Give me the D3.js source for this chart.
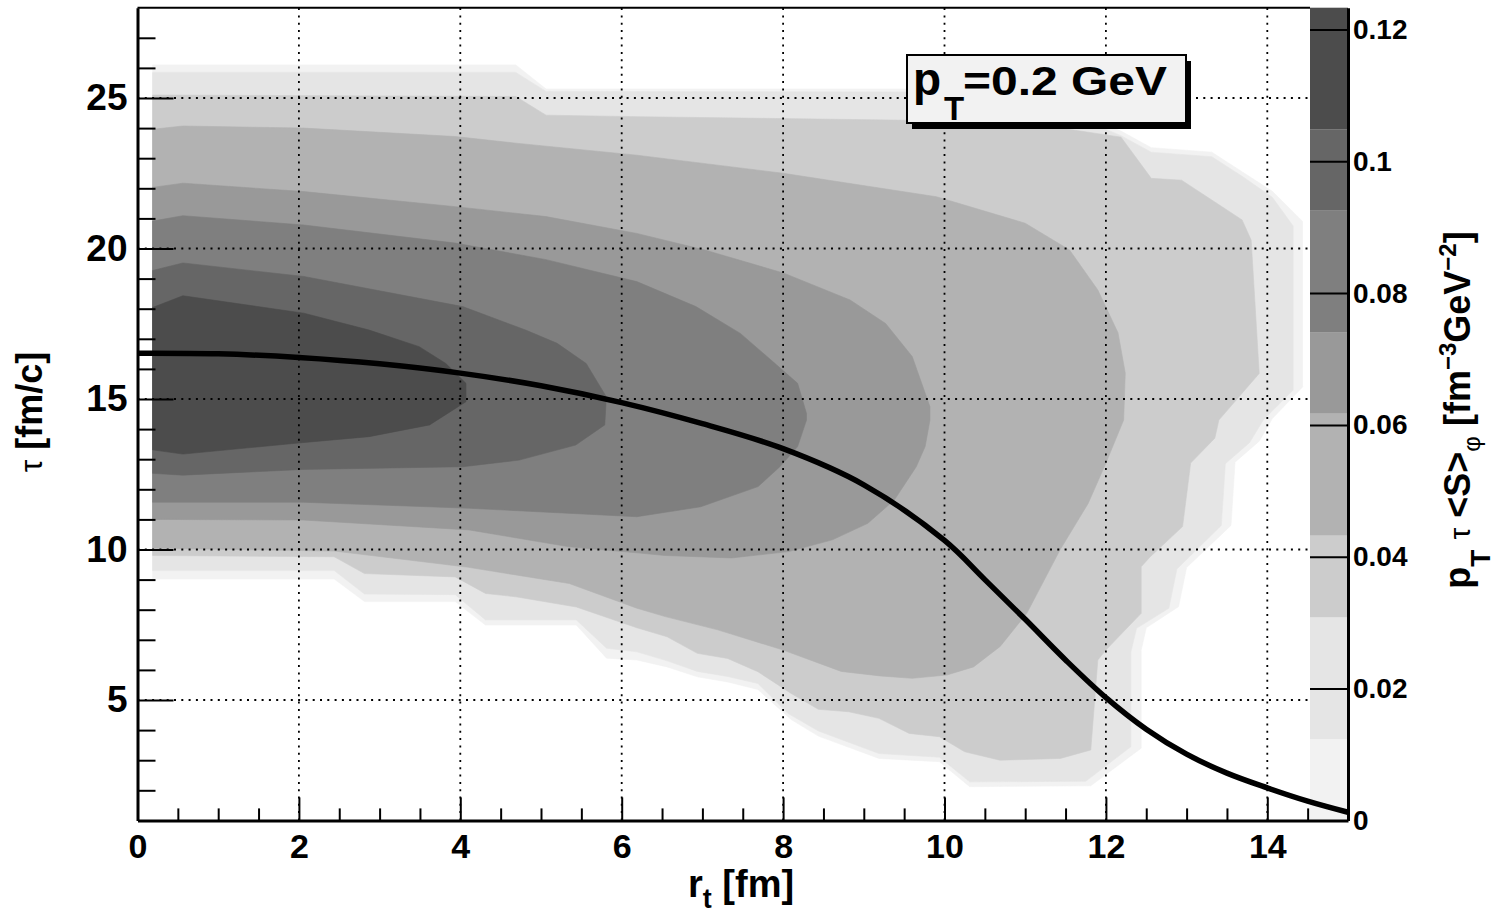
<!DOCTYPE html>
<html>
<head>
<meta charset="utf-8">
<script src="https://cdn.jsdelivr.net/npm/d3@7"></script>
<style>
  html, body { margin: 0; padding: 0; background: #fff; }
  svg { display: block; }
  text { font-family: "Liberation Sans", Arial, Helvetica, sans-serif; font-weight: bold; fill: #000; }
</style>
</head>
<body>
<svg id="chart" width="1504" height="914"></svg>
<script>
// ---- data -------------------------------------------------------------
// axis ticks
const xMajorTicks = [0, 2, 4, 6, 8, 10, 12, 14];
const yMajorTicks = [5, 10, 15, 20, 25];
const zTicks = [0, 0.02, 0.04, 0.06, 0.08, 0.1, 0.12];

// colour levels of the emission function (band edges) and their grey shades
const levelEdges = [0, 0.0123, 0.0308, 0.0432, 0.0617, 0.0740, 0.0925, 0.1048, 0.1233];
const levelColors = ["#f2f2f2", "#e5e5e5", "#cccccc", "#b2b2b2", "#999999", "#7f7f7f", "#666666", "#4c4c4c"];

// contour outlines [r_t, tau] of the regions above each level edge
const contour0 = [[0.1875,26.1],[4.6875,26.1],[5.0625,25.3],[9.5625,25.3],[10.6875,25.1],[11.4375,24.7],[12.1875,23.9],[12.5625,23.35],[13.3125,23.2],[13.6875,22.55],[14.0625,21.9],[14.4375,20.9],[14.4375,15.4],[14.0625,14.35],[13.9,13.6],[13.6,12.9],[13.55,10.8],[13.0,9.4],[12.9,8.1],[12.5,7.4],[12.4375,6.66],[12.4375,3.4],[11.8125,2.15],[10.3125,2.12],[9.9375,2.95],[9.1875,3.06],[8.4375,3.8],[8.1,4.35],[7.6875,5.35],[7.3125,5.6],[6.9375,5.77],[6.5625,6.1],[6.1875,6.33],[5.8125,6.39],[5.4375,7.49],[4.3125,7.49],[3.9375,8.27],[2.8125,8.27],[2.4375,9.02],[0.1875,9.02]];
const contour1 = [[0.1875,25.85],[4.6875,25.85],[5.0625,25.22],[9.5625,25.2],[10.6875,25.0],[11.4375,24.6],[12.1875,23.75],[12.5625,23.2],[13.3125,23.05],[13.6875,22.4],[14.0625,21.7],[14.32,20.75],[14.32,15.3],[13.95,14.3],[13.78,13.55],[13.48,12.85],[13.43,10.8],[12.88,9.35],[12.78,8.05],[12.38,7.38],[12.31,6.6],[12.31,3.45],[11.75,2.3],[10.3125,2.28],[9.9375,3.1],[9.1875,3.22],[8.4375,3.97],[8.0625,4.55],[7.6875,5.55],[7.3125,5.78],[6.9375,5.95],[6.5625,6.3],[6.1875,6.6],[5.8125,6.72],[5.4375,7.66],[4.3125,7.66],[3.9375,8.5],[2.8125,8.52],[2.4375,9.3],[0.1875,9.3]];
const contour2 = [[0.1875,25.1],[4.6875,25.05],[5.0625,24.43],[6.1875,24.38],[9.5625,24.26],[10.6875,24.15],[11.4375,24.0],[12.1875,23.7],[12.5625,22.33],[12.9375,22.27],[13.3125,21.61],[13.6875,20.95],[13.8,20.28],[13.9,15.85],[13.4,14.3],[13.35,13.7],[13.05,12.87],[12.95,10.76],[12.55,9.76],[12.4375,9.43],[12.4375,7.88],[12.0,6.66],[11.9,6.33],[11.8125,3.34],[11.4375,3.06],[10.6875,3.0],[10.25,3.28],[9.9375,3.78],[9.5625,3.89],[9.1875,4.39],[8.8125,4.61],[8.4375,4.69],[8.1,5.22],[7.6875,5.94],[7.3125,6.38],[6.9375,6.55],[6.5625,7.1],[6.1875,7.4],[5.4375,8.09],[4.6875,8.43],[4.3125,8.54],[3.9375,9.09],[2.8125,9.2],[2.4375,9.76],[0.1875,9.8]];
const contour3 = [[0.1875,23.96],[0.5625,24.07],[2.0625,24.0],[3.9375,23.72],[4.6875,23.5],[5.0625,23.4],[6.1875,23.1],[8.0,22.5],[9.9,21.72],[11.0,20.84],[11.55,19.95],[11.9,18.62],[12.15,17.2],[12.24,15.86],[12.22,14.3],[12.0,12.87],[11.78,11.53],[11.43,9.98],[11.02,7.88],[10.69,6.78],[10.36,6.1],[10.03,5.83],[9.6,5.72],[9.2,5.8],[8.72,5.95],[8.0,6.66],[7.19,7.33],[6.54,7.77],[6.1875,8.05],[5.35,8.87],[4.1,9.41],[2.4375,9.95],[0.1875,10.04]];
const contour4 = [[0.1875,22.03],[0.5625,22.17],[2.0625,21.89],[3.9375,21.39],[5.0625,21.06],[6.1875,20.5],[7.03,19.95],[8.01,19.18],[8.83,18.29],[9.27,17.51],[9.6,16.41],[9.82,14.74],[9.82,14.3],[9.76,13.42],[9.65,12.75],[9.38,11.65],[9.05,10.87],[8.61,10.32],[8.07,9.93],[7.36,9.72],[6.54,9.8],[6.1875,9.89],[5.35,10.09],[4.11,10.65],[2.05,10.98],[0.1875,11.0]];
const contour5 = [[0.1875,20.91],[0.5625,21.09],[2.0625,20.78],[3.9375,20.18],[5.0625,19.63],[6.1875,18.9],[6.92,18.07],[7.47,17.18],[7.9,16.18],[8.18,15.52],[8.29,14.52],[8.29,14.3],[8.18,13.42],[7.96,12.75],[7.69,12.09],[6.98,11.42],[6.1875,11.09],[4.11,11.37],[2.05,11.57],[0.1875,11.57]];
const contour6 = [[0.1875,19.27],[0.5625,19.52],[2.0625,19.07],[4.03,18.07],[4.81,17.29],[5.2,16.85],[5.56,16.18],[5.81,15.07],[5.79,14.14],[5.43,13.47],[4.73,12.97],[4.03,12.75],[2.05,12.66],[0.5625,12.47],[0.1875,12.53]];
const contour7 = [[0.1875,18.04],[0.5625,18.43],[2.0625,17.85],[2.87,17.29],[3.49,16.74],[3.82,16.18],[4.07,15.52],[4.07,14.91],[3.62,14.14],[2.87,13.75],[1.96,13.53],[0.5625,13.17],[0.1875,13.31]];

// freeze-out curve tau(r_t)
const curveR   = [0, 1, 2, 3, 4, 5, 6, 7, 8, 9, 10, 10.5, 11, 11.5, 12, 12.5, 13, 13.5, 14, 14.5, 15];
const curveTau = [16.52, 16.5, 16.38, 16.17, 15.86, 15.44, 14.88, 14.18, 13.35, 12.15, 10.3, 9.0, 7.68, 6.33, 5.08, 4.03, 3.2, 2.57, 2.08, 1.64, 1.27];

// ---- layout -----------------------------------------------------------
const svg = d3.select("#chart");
const X0 = 137.5, X1 = 1348, Y0 = 820.4, Y1 = 7.7;
const PAL0 = 1310;                      // left edge of the palette

const x = d3.scaleLinear().domain([0, 15]).range([X0, X1]);
const y = d3.scaleLinear().domain([1, 28]).range([Y0, Y1]);
const z = d3.scaleLinear().domain([0, 0.1233]).range([Y0, Y1]);

svg.append("rect").attr("width", 1504).attr("height", 914).attr("fill", "#fff");

// ---- filled contours ---------------------------------------------------
const contours = [contour0, contour1, contour2, contour3, contour4, contour5, contour6, contour7];
const poly = d3.line().x(d => x(d[0])).y(d => y(d[1]));
svg.append("g").selectAll("path")
  .data(contours)
  .join("path")
  .attr("d", d => poly(d) + "Z")
  .attr("fill", (d, i) => levelColors[i])
  .attr("stroke", (d, i) => levelColors[i])
  .attr("stroke-width", 0.6);

// ---- dotted grid -------------------------------------------------------
const grid = svg.append("g").attr("stroke", "#000").attr("stroke-width", 1.8)
  .attr("stroke-dasharray", "2,5.3").attr("fill", "none");
grid.selectAll("line.gx").data(xMajorTicks.filter(v => v > 0)).join("line")
  .attr("x1", d => x(d)).attr("x2", d => x(d)).attr("y1", Y0).attr("y2", Y1);
grid.selectAll("line.gy").data(yMajorTicks).join("line")
  .attr("y1", d => y(d)).attr("y2", d => y(d)).attr("x1", X0).attr("x2", PAL0);

// ---- palette -----------------------------------------------------------
const pal = svg.append("g");
pal.selectAll("rect").data(levelColors).join("rect")
  .attr("x", PAL0).attr("width", X1 - PAL0)
  .attr("y", (d, i) => z(levelEdges[i + 1]))
  .attr("height", (d, i) => z(levelEdges[i]) - z(levelEdges[i + 1]))
  .attr("fill", d => d);
const zAxis = d3.axisRight(z).tickValues(zTicks)
  .tickSize(-(X1 - PAL0)).tickSizeOuter(0).tickPadding(5)
  .tickFormat(d => d === 0 ? "0" : String(+d.toFixed(2)));
const zg = svg.append("g").attr("transform", `translate(${X1},0)`).call(zAxis);
zg.select(".domain").attr("stroke", "#000").attr("stroke-width", 3);
zg.selectAll(".tick line").attr("stroke", "#000").attr("stroke-width", 2);
zg.selectAll(".tick text").attr("font-size", 28).attr("font-family", null);

// ---- main axes ---------------------------------------------------------
const xMinor = d3.range(0.5, 15, 0.5).filter(v => v % 2 !== 0);
const yMinor = d3.range(2, 28, 1).filter(v => v % 5 !== 0);

const xg = svg.append("g").attr("transform", `translate(0,${Y0})`)
  .call(d3.axisBottom(x).tickValues(xMajorTicks).tickSize(-23).tickSizeOuter(0).tickPadding(13));
svg.append("g").attr("transform", `translate(0,${Y0})`)
  .call(d3.axisBottom(x).tickValues(xMinor).tickSize(-12).tickSizeOuter(0).tickFormat(""))
  .call(g => g.select(".domain").remove());
const yg = svg.append("g").attr("transform", `translate(${X0},0)`)
  .call(d3.axisLeft(y).tickValues(yMajorTicks).tickSize(-36).tickSizeOuter(0).tickPadding(10));
svg.append("g").attr("transform", `translate(${X0},0)`)
  .call(d3.axisLeft(y).tickValues(yMinor).tickSize(-18).tickSizeOuter(0).tickFormat(""))
  .call(g => g.select(".domain").remove());

svg.selectAll(".tick line").attr("stroke", "#000").attr("stroke-width", 2);
xg.select(".domain").attr("stroke", "#000").attr("stroke-width", 3);
yg.select(".domain").attr("stroke", "#000").attr("stroke-width", 3);
xg.selectAll(".tick text").attr("font-size", 34).attr("font-family", null);
yg.selectAll(".tick text").attr("font-size", 37).attr("font-family", null);
zg.select(".domain").raise();

// top frame edge
svg.append("line").attr("x1", X0).attr("x2", PAL0).attr("y1", Y1).attr("y2", Y1)
  .attr("stroke", "#000").attr("stroke-width", 2);

// ---- freeze-out curve --------------------------------------------------
const curvePts = curveR.map((r, i) => [r, curveTau[i]]);
svg.append("path")
  .attr("d", d3.line().x(d => x(d[0])).y(d => y(d[1])).curve(d3.curveCatmullRom.alpha(0.5))(curvePts))
  .attr("fill", "none").attr("stroke", "#000").attr("stroke-width", 5.5);

// ---- axis titles -------------------------------------------------------
const xt = svg.append("text").attr("x", 688).attr("y", 897).attr("font-size", 38);
xt.append("tspan").text("r");
xt.append("tspan").attr("font-size", 27).attr("dy", 11).text("t");
xt.append("tspan").attr("dy", -11).text(" [fm]");

const yt = svg.append("text").attr("transform", "translate(42,412) rotate(-90)")
  .attr("text-anchor", "middle").attr("font-size", 36);
yt.append("tspan").attr("font-weight", "normal").attr("font-size", 32).text("τ");
yt.append("tspan").text(" [fm/c]");

const zt = svg.append("text").attr("transform", "translate(1470,410) rotate(-90)")
  .attr("text-anchor", "middle").attr("font-size", 36);
zt.append("tspan").text("p");
zt.append("tspan").attr("font-size", 28).attr("dy", 20).text("T");
zt.append("tspan").attr("dy", -20).text(" ");
zt.append("tspan").attr("font-weight", "normal").attr("font-size", 30).text("τ");
zt.append("tspan").text(" <S>");
zt.append("tspan").attr("font-weight", "normal").attr("font-size", 24).attr("dy", 10).text("φ");
zt.append("tspan").attr("dy", -10).text(" [fm");
zt.append("tspan").attr("font-size", 24).attr("dy", -14).text("−3");
zt.append("tspan").attr("dy", 14).text("GeV");
zt.append("tspan").attr("font-size", 24).attr("dy", -14).text("−2");
zt.append("tspan").attr("dy", 14).text("]");

// ---- label box ---------------------------------------------------------
const box = svg.append("g");
box.append("rect").attr("x", 912).attr("y", 61).attr("width", 279).attr("height", 68).attr("fill", "#000");
box.append("rect").attr("x", 907).attr("y", 55).attr("width", 279).attr("height", 68)
  .attr("fill", "#f2f2f2").attr("stroke", "#000").attr("stroke-width", 2);
box.append("text").attr("x", 913).attr("y", 95).attr("font-size", 46).text("p");
box.append("text").attr("x", 944).attr("y", 120).attr("font-size", 33).text("T");
box.append("text").attr("transform", "translate(963,95) scale(1.17,1)").attr("font-size", 41)
  .text("=0.2 GeV");
</script>
</body>
</html>
